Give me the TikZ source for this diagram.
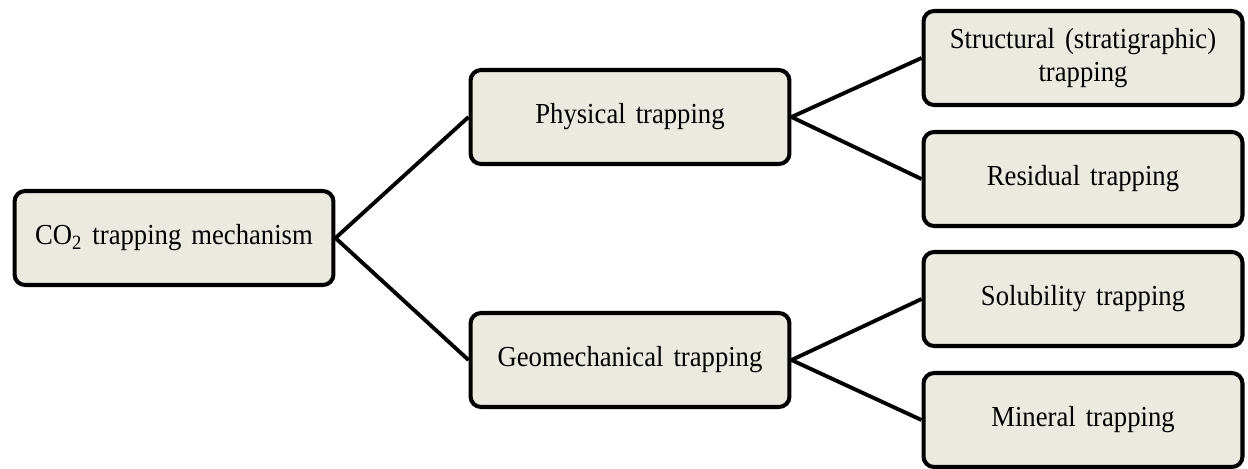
\documentclass[tikz,border=0pt]{standalone}
\usepackage{fontspec}
\setmainfont[FakeStretch=0.92,WordSpace=1.5]{Liberation Serif}
\definecolor{boxfill}{RGB}{236,234,224}

\begin{document}
\begin{tikzpicture}[x=0.02cm, y=-0.02cm,
    trapbox/.style={draw=black, fill=boxfill, line width=2.3pt, rounded corners=6pt,
        minimum width=6.38cm, minimum height=1.88cm, align=center,
        font=\fontsize{16.5}{18.5}\selectfont},
    link/.style={black, line width=2.2pt}]

    \useasboundingbox (0,0) rectangle (1248,468);

    % root
    \node[trapbox] (co2) at (174,238) {CO\textsubscript{2} trapping mechanism};

    % second level
    \node[trapbox] (phys) at (630,117) {Physical trapping};
    \node[trapbox] (geom) at (630,360) {Geomechanical trapping};

    % third level
    \node[trapbox] (struc) at (1083,58) {Structural (stratigraphic)\\trapping};
    \node[trapbox] (resid) at (1083,179) {Residual trapping};
    \node[trapbox] (solub) at (1083,299) {Solubility trapping};
    \node[trapbox] (miner) at (1083,420) {Mineral trapping};

    % connectors
    \draw[link] (co2.east) -- (phys.west);
    \draw[link] (co2.east) -- (geom.west);
    \draw[link] (phys.east) -- (struc.west);
    \draw[link] (phys.east) -- (resid.west);
    \draw[link] (geom.east) -- (solub.west);
    \draw[link] (geom.east) -- (miner.west);

\end{tikzpicture}
\end{document}
